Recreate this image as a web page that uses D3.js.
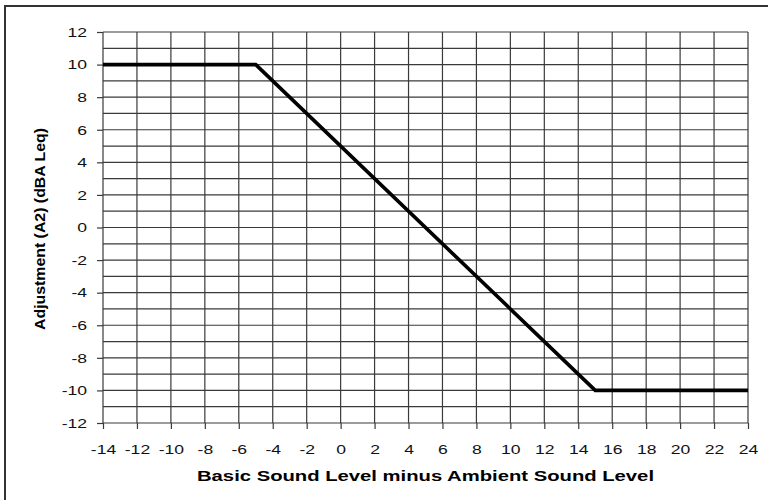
<!DOCTYPE html>
<html>
<head>
<meta charset="utf-8">
<script src="https://cdn.jsdelivr.net/npm/d3@7.9.0/dist/d3.min.js"></script>
<style>
  body { margin: 0; background: #fff; }
  svg { display: block; font-family: 'Liberation Sans', Arial, sans-serif; }
</style>
</head>
<body>
<svg id="chart" width="768" height="500"></svg>
<script>
const xTicks = [-14, -12, -10, -8, -6, -4, -2, 0, 2, 4, 6, 8, 10, 12, 14, 16, 18, 20, 22, 24];
const yTicks = [12, 10, 8, 6, 4, 2, 0, -2, -4, -6, -8, -10, -12];
const yGrid = d3.range(-12, 13, 1);
const levelDiff = [-14, -5, 15, 24];
const adjustment = [10, 10, -10, -10];

const margin = { top: 32, right: 20, bottom: 77, left: 103 };
const width = 768;
const height = 500;
const svg = d3.select('#chart');

const x = d3.scaleLinear().domain([-14, 24]).range([margin.left, width - margin.right]);
const y = d3.scaleLinear().domain([-12, 12]).range([height - margin.bottom, margin.top]);

// stretch text horizontally like the original (wide glyphs)
function widen(selection, factor) {
  selection.each(function () {
    const w = this.getComputedTextLength();
    d3.select(this)
      .attr('textLength', w * factor)
      .attr('lengthAdjust', 'spacingAndGlyphs');
  });
}

// outer frame (runs off the bottom/right of the picture)
svg.append('rect')
  .attr('x', 5).attr('y', 6)
  .attr('width', 800).attr('height', 520)
  .attr('fill', 'none')
  .attr('stroke', '#333')
  .attr('stroke-width', 2);

const grid = svg.append('g').attr('stroke', '#3a3a3a').attr('stroke-width', 1.2);

grid.selectAll('line.h')
  .data(yGrid)
  .join('line')
  .attr('class', 'h')
  .attr('x1', x(-14)).attr('x2', x(24))
  .attr('y1', (d) => y(d)).attr('y2', (d) => y(d));

grid.selectAll('line.v')
  .data(xTicks)
  .join('line')
  .attr('class', 'v')
  .attr('x1', (d) => x(d)).attr('x2', (d) => x(d))
  .attr('y1', y(12)).attr('y2', y(-12));

const xAxis = svg.append('g')
  .attr('transform', `translate(0,${y(-12)})`)
  .call(d3.axisBottom(x).tickValues(xTicks).tickSize(6).tickPadding(15).tickFormat(String));

const yAxis = svg.append('g')
  .attr('transform', `translate(${x(-14)},0)`)
  .call(d3.axisLeft(y).tickValues(yTicks).tickSize(6).tickPadding(10).tickFormat(String));

[xAxis, yAxis].forEach((axis) => {
  axis.select('.domain').remove();
  axis.selectAll('.tick line').attr('stroke', '#3a3a3a').attr('stroke-width', 1.2);
  axis.selectAll('.tick text')
    .attr('fill', '#111')
    .style('font-size', '13.5px')
    .style('font-family', "'Liberation Sans', Arial, sans-serif")
    .call(widen, 1.3);
});

const line = d3.line()
  .x((d, i) => x(levelDiff[i]))
  .y((d) => y(d));

svg.append('path')
  .datum(adjustment)
  .attr('d', line)
  .attr('fill', 'none')
  .attr('stroke', '#000')
  .attr('stroke-width', 3.6)
  .attr('stroke-linejoin', 'miter');

svg.append('text')
  .attr('x', (x(-14) + x(24)) / 2)
  .attr('y', 481)
  .attr('text-anchor', 'middle')
  .attr('textLength', 457)
  .attr('lengthAdjust', 'spacingAndGlyphs')
  .style('font-size', '15px')
  .style('font-weight', 'bold')
  .attr('fill', '#000')
  .text('Basic Sound Level minus Ambient Sound Level');

svg.append('text')
  .attr('transform', `translate(45,229) rotate(-90)`)
  .attr('text-anchor', 'middle')
  .attr('textLength', 202)
  .attr('lengthAdjust', 'spacingAndGlyphs')
  .style('font-size', '14px')
  .style('font-weight', 'bold')
  .attr('fill', '#000')
  .text('Adjustment (A2) (dBA Leq)');
</script>
</body>
</html>
